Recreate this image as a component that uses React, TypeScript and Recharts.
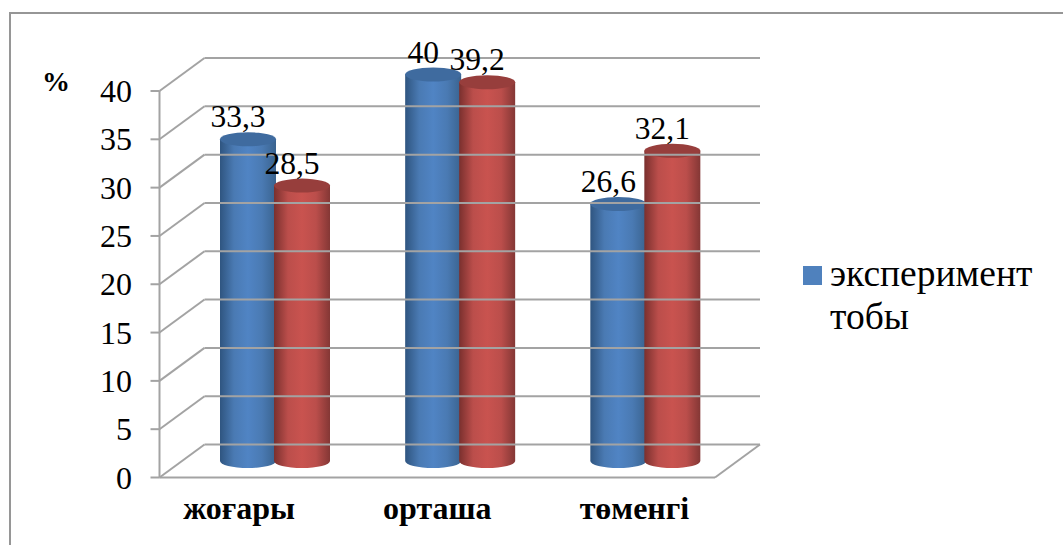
import { Bar, BarChart, LabelList, Label, Legend, XAxis, YAxis } from "recharts";

const categories = ["жоғары", "орташа", "төменгі"];
const experimentValues = [33.3, 40, 26.6];
const secondValues = [28.5, 39.2, 32.1];
const yTicks = [0, 5, 10, 15, 20, 25, 30, 35, 40];
const legendName = "эксперимент тобы";
const unitLabel = "%";

const data = categories.map((name, i) => ({
  name,
  experiment: experimentValues[i],
  second: secondValues[i],
}));

const FONT = '"Liberation Serif", "Times New Roman", serif';
const GRID = "#a3a3a3";
const DEPTH_X = 45;
const DEPTH_Y = 33;
const PLOT_LEFT = 159.5;
const PLOT_RIGHT = 715;
const PLOT_TOP = 91;
const PLOT_BOTTOM = 477.5;
const LEGEND_WIDTH = 255;
const CAT_NUDGE = [-13, 0, 12];

function YTick({ y, payload }: any) {
  const right = PLOT_RIGHT + DEPTH_X;
  const axisX = PLOT_LEFT;
  return (
    <g>
      <line x1={axisX - 9} x2={axisX} y1={y} y2={y} stroke={GRID} strokeWidth={2} />
      <line x1={axisX} x2={axisX + DEPTH_X} y1={y} y2={y - DEPTH_Y} stroke={GRID} strokeWidth={2} />
      <line x1={axisX + DEPTH_X} x2={right} y1={y - DEPTH_Y} y2={y - DEPTH_Y} stroke={GRID} strokeWidth={2} />
      {payload.value === 0 && (
        <line x1={PLOT_RIGHT} x2={right} y1={y} y2={y - DEPTH_Y} stroke={GRID} strokeWidth={2} />
      )}
      <text x={132} y={y + 11} textAnchor="end" fontFamily={FONT} fontSize={32} fill="#000">
        {payload.value}
      </text>
    </g>
  );
}

function CategoryTick({ x, payload, index }: any) {
  return (
    <text
      x={x + CAT_NUDGE[index]}
      y={519}
      textAnchor="middle"
      fontFamily={FONT}
      fontWeight={700}
      fontSize={32}
      fill="#000"
    >
      {payload.value}
    </text>
  );
}

function Cylinder({ x, y, width, height, gradient, capFill }: any) {
  const rx = width / 2;
  const ry = 7;
  const cx = x + rx + DEPTH_X / 2;
  const top = y - DEPTH_Y / 2;
  const bottom = top + height;
  const left = cx - rx;
  const right = cx + rx;
  const body = `M${left},${top} L${left},${bottom} A${rx},${ry} 0 0 0 ${right},${bottom} L${right},${top} Z`;
  return (
    <g>
      <path d={body} fill={`url(#${gradient})`} />
      <ellipse cx={cx} cy={top} rx={rx} ry={ry} fill={capFill} />
    </g>
  );
}

function ValueLabel({ x, y, width, value }: any) {
  return (
    <text
      x={x + width / 2 + DEPTH_X / 2 - 10}
      y={y - DEPTH_Y / 2 - 12}
      textAnchor="middle"
      fontFamily={FONT}
      fontSize={31.5}
      fill="#000"
    >
      {String(value).replace(".", ",")}
    </text>
  );
}

function LegendBox() {
  return (
    <div style={{ display: "flex", alignItems: "flex-start", fontFamily: FONT, fontSize: 37.5, lineHeight: "43px", color: "#000" }}>
      <span style={{ width: 19, height: 19, background: "#4f81bd", marginTop: 14, marginRight: 8, flex: "none" }} />
      <span style={{ width: 225 }}>{legendName}</span>
    </div>
  );
}

export default function App() {
  return (
    <div style={{ position: "absolute", left: 0, top: 0, width: 1063, height: 545, overflow: "hidden", background: "#fff" }}>
      <div style={{ position: "absolute", left: 9, top: 12, width: 1100, height: 600, border: "2px solid #969696" }} />
      <BarChart
        width={1063}
        height={545}
        data={data}
        barSize={56}
        barGap={-2}
        margin={{ top: PLOT_TOP, right: 1063 - PLOT_RIGHT - LEGEND_WIDTH, bottom: 0, left: 0 }}
        style={{ position: "absolute", left: 0, top: 0 }}
      >
        <defs>
          <linearGradient id="cylBlue" x1="0" x2="1" y1="0" y2="0">
            <stop offset="0" stopColor="#2f5580" />
            <stop offset="0.25" stopColor="#4a7ab3" />
            <stop offset="0.5" stopColor="#5084c4" />
            <stop offset="0.75" stopColor="#4a7ab3" />
            <stop offset="1" stopColor="#3a638f" />
          </linearGradient>
          <linearGradient id="cylRed" x1="0" x2="1" y1="0" y2="0">
            <stop offset="0" stopColor="#7a302e" />
            <stop offset="0.25" stopColor="#bb4e4b" />
            <stop offset="0.5" stopColor="#c9534f" />
            <stop offset="0.75" stopColor="#bb4e4b" />
            <stop offset="1" stopColor="#843735" />
          </linearGradient>
        </defs>
        <XAxis dataKey="name" axisLine={{ stroke: GRID, strokeWidth: 2 }} tickLine={false} height={545 - PLOT_BOTTOM} tick={<CategoryTick />} interval={0} />
        <YAxis
          domain={[0, 40]}
          ticks={yTicks}
          width={PLOT_LEFT}
          axisLine={{ stroke: GRID, strokeWidth: 2 }}
          tickLine={false}
          tick={<YTick />}
          interval={0}
        >
          <Label
            content={() => (
              <text x={42} y={91} fontFamily={FONT} fontWeight={700} fontSize={28} fill="#000">
                {unitLabel}
              </text>
            )}
          />
        </YAxis>
        <Legend
          content={<LegendBox />}
          layout="vertical"
          verticalAlign="top"
          align="right"
          wrapperStyle={{ left: 803, top: 252, width: LEGEND_WIDTH }}
        />
        <Bar
          dataKey="experiment"
          name={legendName}
          isAnimationActive={false}
          shape={(props: any) => <Cylinder {...props} gradient="cylBlue" capFill="#3f6b9f" />}
        >
          <LabelList dataKey="experiment" content={<ValueLabel />} />
        </Bar>
        <Bar
          dataKey="second"
          legendType="none"
          isAnimationActive={false}
          shape={(props: any) => <Cylinder {...props} gradient="cylRed" capFill="#973e3c" />}
        >
          <LabelList dataKey="second" content={<ValueLabel />} />
        </Bar>
      </BarChart>
    </div>
  );
}
